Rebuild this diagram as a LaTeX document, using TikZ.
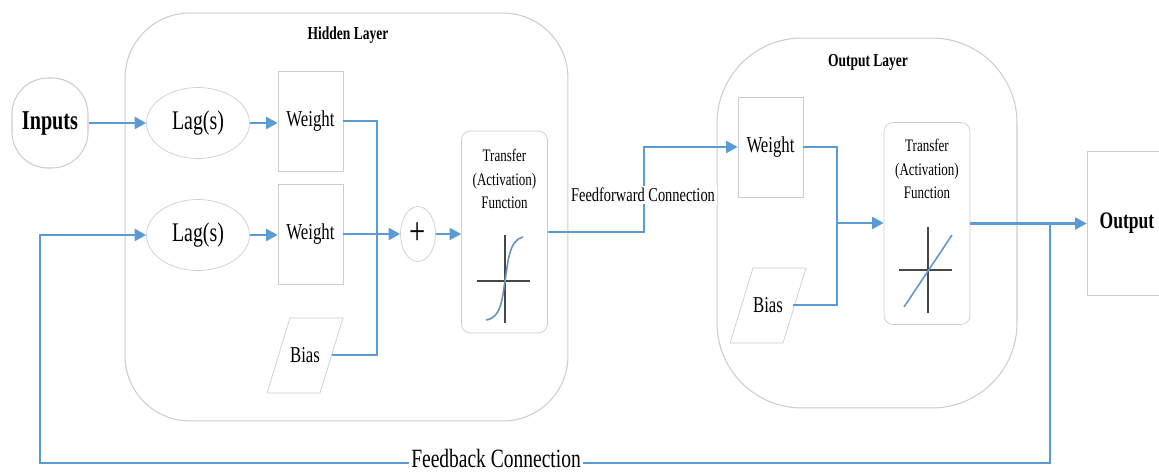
\documentclass[tikz,border=0pt]{standalone}
\usepackage{fontspec}
\setmainfont{Liberation Serif}[FakeStretch=0.74]
\usetikzlibrary{arrows.meta,positioning,shapes.geometric,shapes.misc}
\definecolor{flowBlue}{RGB}{91, 155, 213}
\definecolor{edgeGray}{RGB}{205, 205, 205}
\definecolor{plotGray}{RGB}{70, 70, 70}
\definecolor{curveBlue}{RGB}{105, 145, 185}

\begin{document}
\begin{tikzpicture}[
  x=0.02cm, y=-0.02cm,
  layer/.style={
    draw=edgeGray,
    line width=0.6pt,
    inner sep=0pt
  },
  lagnode/.style={
    draw=edgeGray,
    ellipse,
    inner sep=0pt,
    minimum width=2.06cm,
    minimum height=1.42cm,
    font=\fontsize{15.3}{18}\selectfont
  },
  weightbox/.style={
    draw=edgeGray,
    inner sep=0pt,
    minimum width=1.3cm,
    minimum height=2.0cm,
    font=\fontsize{12.9}{15}\selectfont
  },
  biastext/.style={
    inner sep=0pt,
    font=\fontsize{12.9}{15}\selectfont
  },
  biasedge/.style={draw=edgeGray, line width=0.4pt},
  tfbox/.style={
    draw=edgeGray,
    rounded corners=0.18cm,
    inner sep=0pt,
    minimum width=1.72cm,
    minimum height=4.04cm
  },
  tftext/.style={
    align=center,
    font=\fontsize{10}{13.6}\selectfont
  },
  caption/.style={
    fill=white,
    inner sep=1pt
  },
  link/.style={flowBlue, line width=1.15pt},
  arrow/.style={-{Triangle[length=2.3mm,width=2.4mm]}, link}
]
  \useasboundingbox (0,0) rectangle (1159,473);

  \node[layer, rounded corners=1.3cm, minimum width=8.86cm, minimum height=8.16cm]
    (hidden) at (346.5,217) {};
  \node[font=\bfseries\fontsize{10.4}{12}\selectfont] (hiddentitle) at (348,35) {Hidden Layer};
  \node[layer, rounded corners=1.7cm, minimum width=6.0cm, minimum height=7.4cm]
    (outlayer) at (867,223) {};
  \node[font=\bfseries\fontsize{10.4}{12}\selectfont] (outtitle) at (868,62) {Output Layer};

  \node[layer, rounded corners=0.72cm, minimum width=1.52cm, minimum height=1.8cm,
    font=\bfseries\fontsize{15.5}{18}\selectfont] (inputs) at (50,123) {Inputs};

  \node[lagnode] (lagA) at (198,123) {Lag(s)};
  \node[lagnode] (lagB) at (198,235) {Lag(s)};
  \node[weightbox] (wA) at (310.5,121) {Weight};
  \node[weightbox] (wB) at (310.5,234) {Weight};
  \node[biastext] (biasA) at (305,355) {Bias};
  \draw[biasedge] (biasA.center) ++(-38,38) -- ++(53,0) -- ++(23,-75) -- ++(-53,0) -- cycle;
  \node[draw=edgeGray, ellipse, inner sep=0pt, minimum width=0.7cm, minimum height=1.1cm,
    font=\fontsize{22}{22}\selectfont] (plus) at (418,234) {+};
  \node[tfbox] (tfA) at (504.5,232) {};
  \node[tftext] (tfAtext) at (504.5,179) {Transfer\\(Activation)\\Function};

  \node[weightbox] (wC) at (770.5,147) {Weight};
  \node[biastext] (biasB) at (768,305) {Bias};
  \draw[biasedge] (biasB.center) ++(-38,38) -- ++(53,0) -- ++(23,-75) -- ++(-53,0) -- cycle;
  \node[tfbox] (tfB) at (927,223.5) {};
  \node[tftext] (tfBtext) at (927,169) {Transfer\\(Activation)\\Function};

  \node[draw=edgeGray, inner sep=0pt, minimum width=2.26cm, minimum height=2.88cm]
    (outbox) at (1143.5,223) {};
  \node[font=\bfseries\fontsize{13.5}{16}\selectfont] (outtext) at (1127,223) {Output};

  \draw[plotGray, line width=0.8pt] (477,281) -- (530,281) (505,235) -- (505,323);
  \draw[curveBlue, line width=0.9pt] (486,320) .. controls (501,318) and (502,300) .. (505,281)
    .. controls (508,262) and (509,240) .. (523,237);
  \draw[plotGray, line width=0.8pt] (899,270) -- (952,270) (928,227) -- (928,313);
  \draw[flowBlue, line width=0.9pt] (904,307) -- (952,235);

  \coordinate (sumA) at (377,234);
  \coordinate (sumB) at (837,223);
  \coordinate (fbsplit) at (1050,223);
  \coordinate (fbcorner) at (40,463);

  \draw[arrow] (inputs) -- (lagA);
  \draw[arrow] (lagA.east) -- (lagA.east -| wA.west);
  \draw[arrow] (lagB.east) -- (lagB.east -| wB.west);
  \draw[link] (wA.east) -| (sumA);
  \draw[link] ([xshift=0.54cm]biasA.center) -| (sumA);
  \draw[arrow] (wB.east) -- (plus.west);
  \draw[arrow] (plus.east) -- (plus.east -| tfA.west);

  \draw[arrow] (tfA.east) -- ++(96,0) coordinate (ffbend) |- (wC.west);
  \node[caption, font=\fontsize{11.1}{13}\selectfont] (fflabel) at (643,195) {Feedforward Connection};

  \draw[link] (wC.east) -| (sumB);
  \draw[link] ([xshift=0.5cm]biasB.center) -| (sumB);
  \draw[arrow] (sumB) -- (sumB -| tfB.west);
  \draw[arrow] (tfB.east) -- (tfB.east -| outbox.west);

  \draw[arrow] (fbsplit) |- (fbcorner) |- (lagB.west);
  \node[caption, anchor=base, inner ysep=0pt, font=\fontsize{15}{17}\selectfont]
    (fblabel) at (496,467) {Feedback Connection};
\end{tikzpicture}
\end{document}
